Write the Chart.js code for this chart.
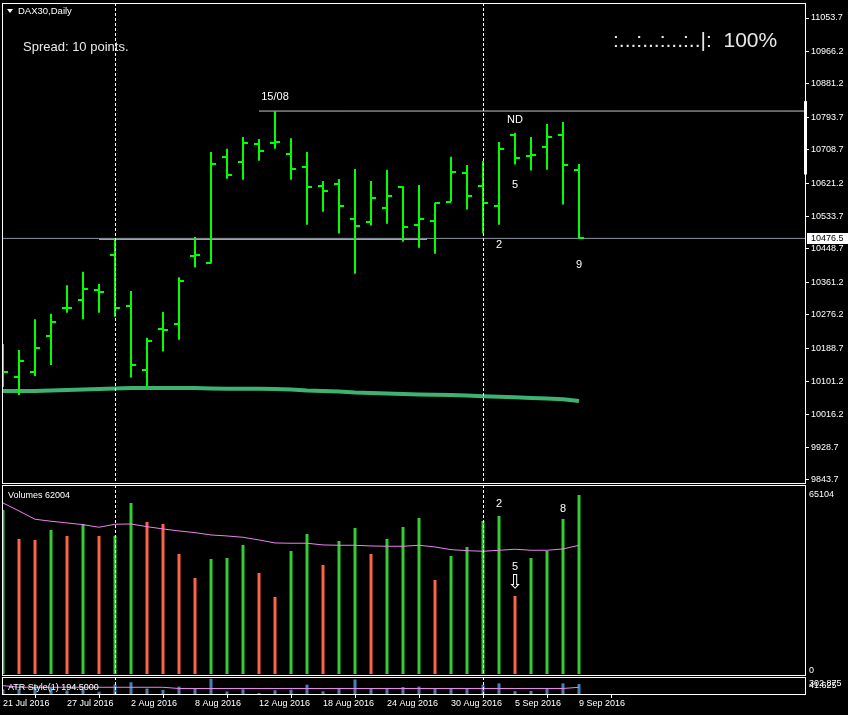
<!DOCTYPE html>
<html>
<head>
<meta charset="utf-8">
<title>DAX30,Daily</title>
<script src="https://cdn.jsdelivr.net/npm/chart.js@4.4.0/dist/chart.umd.min.js"></script>
<style>
  body { margin: 0; background: #000; }
  #wrap { position: relative; width: 848px; height: 715px; background: #000; overflow: hidden; }
  canvas { position: absolute; left: 0; }
</style>
</head>
<body>
<div id="wrap">
  <canvas id="priceChart" width="848" height="484" style="top:0"></canvas>
  <canvas id="volumeChart" width="848" height="192" style="top:484px"></canvas>
  <canvas id="atrChart" width="848" height="39" style="top:676px"></canvas>
</div>
<script>
// values, 21 Jul - 9 Sep 2016 (bar index 0..36)
var dateTicks = [0, 4, 8, 12, 16, 20, 24, 28, 32, 36];
var dateLabels = ['21 Jul 2016', '27 Jul 2016', '2 Aug 2016', '8 Aug 2016', '12 Aug 2016',
  '18 Aug 2016', '24 Aug 2016', '30 Aug 2016', '5 Sep 2016', '9 Sep 2016'];
var monthStarts = [7, 30];

var priceTicks = [11053.7, 10966.2, 10881.2, 10793.7, 10708.7, 10621.2, 10533.7, 10448.7,
  10361.2, 10276.2, 10188.7, 10101.2, 10016.2, 9928.7, 9843.7];

var opens = [10120, 10114, 10127, 10222, 10293, 10316, 10341, 10434, 10300, 10133, 10239, 10253,
  10431, 10413, 10690, 10677, 10725, 10726, 10698, 10664, 10615, 10620, 10528, 10520, 10557,
  10612, 10512, 10523, 10573, 10649, 10615, 10560, 10748, 10693, 10717, 10748, 10656];
var highs = [10200, 10184, 10265, 10279, 10354, 10389, 10357, 10476, 10339, 10216, 10284, 10375,
  10480, 10703, 10711, 10742, 10737, 10810, 10739, 10703, 10627, 10632, 10658, 10627, 10656,
  10613, 10616, 10570, 10690, 10669, 10679, 10729, 10753, 10742, 10776, 10781, 10671];
var lows = [10087, 10066, 10116, 10145, 10282, 10265, 10282, 10271, 10112, 10088, 10180, 10211,
  10400, 10411, 10633, 10630, 10680, 10711, 10630, 10512, 10546, 10489, 10384, 10510, 10515,
  10468, 10452, 10436, 10573, 10552, 10489, 10512, 10670, 10654, 10656, 10565, 10476.5];
var closes = [10127, 10156, 10190, 10258, 10295, 10345, 10337, 10295, 10146, 10209, 10237, 10366,
  10432, 10672, 10643, 10727, 10706, 10729, 10659, 10612, 10601, 10562, 10510, 10583, 10588,
  10507, 10526, 10570, 10651, 10588, 10570, 10711, 10688, 10696, 10743, 10670, 10476.5];
var movingAverage = [10076.8, 10076.8, 10076.8, 10078.1, 10079.4, 10080.7, 10082.0, 10083.4,
  10084.7, 10084.7, 10084.7, 10084.7, 10084.7, 10083.4, 10082.8, 10082.8, 10082.6, 10082.0,
  10080.7, 10078.1, 10076.8, 10075.5, 10072.9, 10071.6, 10070.3, 10069.0, 10067.7, 10067.1,
  10066.3, 10065.0, 10063.2, 10061.9, 10060.6, 10058.5, 10057.2, 10055.3, 10050.6];

var bidPrice = 10476.5;
var highLevel = [16, 10810];          // from bar, price
var supportLevel = [6, 26.5, 10474];  // from bar, to bar, price
var scrollBand = [10644, 10836];
var priceNotes = [['15/08', 17, 10838], ['ND', 32, 10779], ['5', 32, 10608], ['2', 31, 10451], ['9', 36, 10399]];

var volumes = [56810, 46760, 46420, 49880, 47800, 51960, 47800, 47900, 59230, 52650, 51960, 41570,
  33250, 39840, 40180, 44690, 34990, 26670, 42610, 48500, 37760, 46070, 50570, 41570, 46760,
  50920, 54040, 32560, 40870, 43990, 53000, 54730, 27020, 40180, 42610, 53690, 62004];
var volumeMA = [59230, 56460, 53590, 52900, 52310, 51720, 50820, 51860, 51960, 51020, 50230, 49540,
  48950, 48150, 47800, 47350, 46420, 45380, 45280, 45280, 44690, 44580, 44580, 44340, 44240,
  44240, 44580, 43990, 43060, 42710, 42500, 42850, 43200, 42850, 42850, 43300, 44580];
var volumeLabels = ['65104', '0'];
var volumeNotes = [['2', 31, 57800], ['8', 35, 56100], ['5', 32, 36000]];
var volumeArrow = [32, 31400];

var atr = [113, 118, 149, 134, 96, 123, 75, 190, 222, 125, 104, 155, 120, 275, 80, 115, 57, 100,
  108, 185, 82, 135, 265, 122, 135, 149, 155, 132, 122, 120, 185, 205, 85, 88, 122, 205, 194.5];
var atrMA = [170, 145, 145, 145, 145, 145, 145, 145, 145, 145, 145, 126, 126, 126, 126, 126, 126,
  126, 126, 126, 126, 126, 126, 126, 126, 126, 126, 126, 126, 126, 126, 126, 126, 126, 126, 126, 145];
var atrLabels = ['302.875', '41.625'];

// ---- layout / style ----
var X_MIN = -0.0625, X_MAX = 50.125;   // 16 px per bar
var PRICE_MIN = 9835.8, PRICE_MAX = 11093.0;
var VOL_MIN = -346.3, VOL_MAX = 65450.3;
var ATR_MIN = 41.625, ATR_MAX = 302.875;
var BAR_GREEN = '#00ff00';
var FONT = '"Liberation Sans", Arial, sans-serif';

Chart.defaults.font.family = FONT;
Chart.defaults.font.size = 9;
Chart.defaults.color = '#ffffff';

function points(values) {
  return values.map(function (v, i) { return { x: i, y: v }; });
}

// open tick on the left, close tick on the right
function tickImage(left) {
  var c = document.createElement('canvas');
  c.width = 10; c.height = 2;
  var g = c.getContext('2d');
  g.fillStyle = BAR_GREEN;
  g.fillRect(left ? 0 : 5, 0, 5, 2);
  return c;
}

function noPadding(s) {
  s.paddingTop = 0; s.paddingBottom = 0; s.paddingLeft = 0; s.paddingRight = 0;
}

function xAxis(showLabels) {
  return {
    type: 'linear', min: X_MIN, max: X_MAX, offset: false, display: showLabels,
    grid: { drawOnChartArea: false, drawTicks: true, tickLength: 4, color: '#ffffff' },
    border: { display: false },
    ticks: {
      autoSkip: false, maxRotation: 0, minRotation: 0, align: 'start', padding: 0,
      callback: function (v, i) { return dateLabels[i]; }
    },
    afterBuildTicks: function (s) { s.ticks = dateTicks.map(function (v) { return { value: v }; }); },
    afterFit: function (s) { if (showLabels) s.height = 21; noPadding(s); }
  };
}

function blankRightAxis(min, max) {
  return {
    position: 'right', min: min, max: max,
    grid: { display: false }, border: { display: false }, ticks: { display: false },
    afterFit: function (s) { s.width = 43; noPadding(s); }
  };
}

function baseOptions(padding, scales) {
  return {
    responsive: false, devicePixelRatio: 1, animation: false, events: [],
    layout: { padding: padding, autoPadding: false },
    plugins: { legend: { display: false }, tooltip: { enabled: false } },
    scales: scales
  };
}

// frame of each panel and dashed month separators
var panelFrame = {
  id: 'panelFrame',
  afterDatasetsDraw: function (chart) {
    var ctx = chart.ctx, a = chart.chartArea, x = chart.scales.x;
    ctx.save();
    ctx.strokeStyle = '#ffffff';
    ctx.lineWidth = 1;
    ctx.setLineDash([3, 2]);
    monthStarts.forEach(function (i) {
      var px = Math.round(x.getPixelForValue(i)) + 0.5;
      ctx.beginPath();
      ctx.moveTo(px, a.top);
      ctx.lineTo(px, a.bottom);
      ctx.stroke();
    });
    ctx.setLineDash([]);
    ctx.strokeRect(Math.round(a.left) + 0.5, Math.round(a.top) + 0.5,
      Math.round(a.right - a.left), Math.round(a.bottom - a.top));
    ctx.restore();
  }
};

function drawNotes(chart, notes, yScale) {
  var ctx = chart.ctx, x = chart.scales.x;
  ctx.font = '11px ' + FONT;
  ctx.textAlign = 'center';
  ctx.textBaseline = 'alphabetic';
  notes.forEach(function (n) {
    ctx.fillText(n[0], x.getPixelForValue(n[1]), yScale.getPixelForValue(n[2]));
  });
}

var priceText = {
  id: 'priceText',
  afterDraw: function (chart) {
    var ctx = chart.ctx, a = chart.chartArea, y = chart.scales.y;
    ctx.save();
    ctx.fillStyle = '#ffffff';
    ctx.beginPath();
    ctx.moveTo(a.left + 5, a.top + 6);
    ctx.lineTo(a.left + 11, a.top + 6);
    ctx.lineTo(a.left + 8, a.top + 10);
    ctx.closePath();
    ctx.fill();
    ctx.font = '9.5px ' + FONT;
    ctx.fillText('DAX30,Daily', a.left + 16, a.top + 11);

    ctx.fillStyle = '#e8e8e8';
    ctx.font = '13px ' + FONT;
    ctx.fillText('Spread: 10 points.', a.left + 21, a.top + 48);
    ctx.font = '21px ' + FONT;
    ctx.fillText(':...:...:...:..|:  100%', a.left + 611, a.top + 44);

    ctx.fillStyle = '#ffffff';
    drawNotes(chart, priceNotes, y);

    // scroll band on the price scale
    var top = y.getPixelForValue(scrollBand[1]), bottom = y.getPixelForValue(scrollBand[0]);
    ctx.fillRect(Math.round(a.right) - 1, top, 3, bottom - top);

    // current price label
    var py = Math.round(y.getPixelForValue(bidPrice));
    ctx.fillRect(a.right + 2, py - 5, 41, 11);
    ctx.fillStyle = '#000000';
    ctx.font = '9px ' + FONT;
    ctx.textAlign = 'left';
    ctx.textBaseline = 'middle';
    ctx.fillText(bidPrice.toFixed(1), a.right + 6, py + 0.5);
    ctx.restore();
  }
};

var volumeText = {
  id: 'volumeText',
  afterDraw: function (chart) {
    var ctx = chart.ctx, a = chart.chartArea, x = chart.scales.x, y = chart.scales.y;
    ctx.save();
    ctx.fillStyle = '#ffffff';
    ctx.font = '9px ' + FONT;
    ctx.fillText('Volumes ' + volumes[volumes.length - 1], a.left + 6, a.top + 13);
    ctx.fillText(volumeLabels[0], a.right + 4, a.top + 12);
    ctx.fillText(volumeLabels[1], a.right + 4, a.bottom - 2);
    drawNotes(chart, volumeNotes, y);
    ctx.font = '19px "DejaVu Sans"';
    ctx.textBaseline = 'middle';
    ctx.fillText('\u21e9', x.getPixelForValue(volumeArrow[0]), y.getPixelForValue(volumeArrow[1]));
    ctx.restore();
  }
};

var atrText = {
  id: 'atrText',
  afterDraw: function (chart) {
    var ctx = chart.ctx, a = chart.chartArea;
    ctx.save();
    ctx.fillStyle = '#ffffff';
    ctx.font = '9px ' + FONT;
    ctx.fillText('ATR Style(1) ' + atr[atr.length - 1].toFixed(4), a.left + 6, a.top + 13);
    ctx.fillText(atrLabels[0], a.right + 4, a.top + 9);
    ctx.fillText(atrLabels[1], a.right + 4, a.top + 11);
    ctx.restore();
  }
};

// ---- price panel ----
new Chart(document.getElementById('priceChart'), {
  type: 'bar',
  data: {
    datasets: [
      {
        type: 'bar', order: 2, backgroundColor: BAR_GREEN, barThickness: 2, inflateAmount: 0,
        data: highs.map(function (h, i) { return { x: i, y: [lows[i], h] }; })
      },
      { type: 'scatter', order: 1, data: points(opens), pointStyle: tickImage(true), pointRadius: 3 },
      { type: 'scatter', order: 1, data: points(closes), pointStyle: tickImage(false), pointRadius: 3 },
      {
        type: 'line', order: 10, data: points(movingAverage), borderColor: '#3cb371',
        borderWidth: 4, pointRadius: 0, tension: 0
      },
      {
        type: 'line', order: 8, borderColor: '#8a96a4', borderWidth: 1, pointRadius: 0,
        data: [{ x: X_MIN, y: bidPrice }, { x: X_MAX, y: bidPrice }]
      },
      {
        type: 'line', order: 8, borderColor: '#c4c4c4', borderWidth: 1, pointRadius: 0,
        data: [{ x: supportLevel[0], y: supportLevel[2] }, { x: supportLevel[1], y: supportLevel[2] }]
      },
      {
        type: 'line', order: 8, borderColor: '#c4c4c4', borderWidth: 1, pointRadius: 0,
        data: [{ x: highLevel[0], y: highLevel[1] }, { x: X_MAX, y: highLevel[1] }]
      }
    ]
  },
  options: baseOptions({ left: 2, right: 0, top: 3, bottom: 1 }, {
    x: xAxis(false),
    y: {
      position: 'right', min: PRICE_MIN, max: PRICE_MAX,
      grid: { drawOnChartArea: false, drawTicks: true, tickLength: 4, color: '#ffffff' },
      border: { display: false },
      ticks: { padding: 2, autoSkip: false, callback: function (v) { return v.toFixed(1); } },
      afterBuildTicks: function (s) { s.ticks = priceTicks.map(function (v) { return { value: v }; }); },
      afterFit: function (s) { s.width = 43; noPadding(s); }
    }
  }),
  plugins: [panelFrame, priceText]
});

// ---- volume panel ----
new Chart(document.getElementById('volumeChart'), {
  type: 'bar',
  data: {
    datasets: [
      {
        type: 'bar', order: 2, barThickness: 3, inflateAmount: 0, data: points(volumes),
        backgroundColor: volumes.map(function (v, i) {
          return (i === 0 || v > volumes[i - 1]) ? '#32cd32' : '#ff6347';
        })
      },
      {
        type: 'line', order: 1, data: points(volumeMA), borderColor: '#ee82ee',
        borderWidth: 1, pointRadius: 0, tension: 0
      }
    ]
  },
  options: baseOptions({ left: 2, right: 0, top: 1, bottom: 1 }, {
    x: xAxis(false),
    y: blankRightAxis(VOL_MIN, VOL_MAX)
  }),
  plugins: [panelFrame, volumeText]
});

// ---- ATR panel with the date axis ----
new Chart(document.getElementById('atrChart'), {
  type: 'bar',
  data: {
    datasets: [
      { type: 'bar', order: 2, barThickness: 3, inflateAmount: 0, data: points(atr), backgroundColor: '#4682b4' },
      {
        type: 'line', order: 1, data: points(atrMA), borderColor: '#ee82ee',
        borderWidth: 1, pointRadius: 0, tension: 0
      }
    ]
  },
  options: baseOptions({ left: 2, right: 0, top: 1, bottom: 0 }, {
    x: xAxis(true),
    y: blankRightAxis(ATR_MIN, ATR_MAX)
  }),
  plugins: [panelFrame, atrText]
});
</script>
</body>
</html>
